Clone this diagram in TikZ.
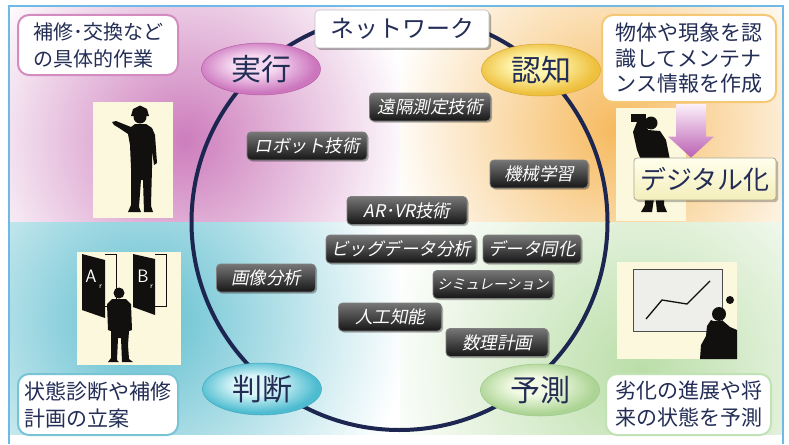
\documentclass[tikz,border=0pt]{standalone}
\usepackage{fontspec}
\setmainfont{Noto Sans CJK JP}
\newfontfamily\btnfont[FakeSlant=0.2]{Noto Sans CJK JP}
\usetikzlibrary{positioning,shapes.geometric,shadows,calc}
\definecolor{frameC}{RGB}{110,185,230}
\definecolor{navyT}{RGB}{35,45,85}
\definecolor{ringC}{RGB}{28,38,80}
\definecolor{magBg}{RGB}{205,125,188}
\definecolor{orgBg}{RGB}{246,186,95}
\definecolor{teaBg}{RGB}{95,190,207}
\definecolor{grnBg}{RGB}{186,222,168}
\definecolor{actL}{RGB}{212,140,192}
\definecolor{recL}{RGB}{245,200,118}
\definecolor{judL}{RGB}{120,196,212}
\definecolor{preL}{RGB}{192,226,180}
\definecolor{exIn}{RGB}{246,218,242}
\definecolor{exOut}{RGB}{204,118,190}
\definecolor{exLn}{RGB}{185,95,165}
\definecolor{reIn}{RGB}{255,246,175}
\definecolor{reOut}{RGB}{238,192,62}
\definecolor{reLn}{RGB}{214,168,52}
\definecolor{juIn}{RGB}{218,246,249}
\definecolor{juOut}{RGB}{78,188,208}
\definecolor{juLn}{RGB}{66,168,190}
\definecolor{prIn}{RGB}{242,250,228}
\definecolor{prOut}{RGB}{172,212,148}
\definecolor{prLn}{RGB}{158,200,138}
\definecolor{btnT}{RGB}{118,118,118}
\definecolor{btnB}{RGB}{22,22,22}
\definecolor{picBg}{RGB}{252,248,222}
\definecolor{silC}{RGB}{18,16,14}
\definecolor{boardF}{RGB}{238,238,234}
\definecolor{digT}{RGB}{255,255,236}
\definecolor{digB}{RGB}{244,238,186}
\definecolor{digL}{RGB}{168,168,150}
\definecolor{arrT}{RGB}{252,240,250}
\definecolor{arrB}{RGB}{186,96,178}
\pgfdeclareradialshading{exSh}{\pgfpoint{-4bp}{5bp}}{color(0bp)=(exIn); color(9bp)=(exIn); color(25bp)=(exOut); color(50bp)=(exOut)}
\pgfdeclareradialshading{reSh}{\pgfpoint{-4bp}{5bp}}{color(0bp)=(reIn); color(9bp)=(reIn); color(25bp)=(reOut); color(50bp)=(reOut)}
\pgfdeclareradialshading{juSh}{\pgfpoint{-4bp}{5bp}}{color(0bp)=(juIn); color(9bp)=(juIn); color(25bp)=(juOut); color(50bp)=(juOut)}
\pgfdeclareradialshading{prSh}{\pgfpoint{-4bp}{5bp}}{color(0bp)=(prIn); color(9bp)=(prIn); color(25bp)=(prOut); color(50bp)=(prOut)}

\begin{document}
\begin{tikzpicture}[
  x=1pt, y=-1pt,
  desc/.style={rounded corners=11pt, draw=#1, line width=2pt, fill=white, align=left, inner sep=0pt, text=navyT},
  lbl/.style={ellipse, minimum width=119pt, minimum height=52pt, inner sep=0pt, draw=#1Ln, line width=0.5pt,
              shade, shading=#1Sh, text=navyT, font=\fontsize{30}{30}\selectfont},
  btn/.style={rounded corners=4pt, draw=black!50, line width=0.8pt, top color=btnT, bottom color=btnB,
              text=white, font={\btnfont\fontsize{17.5}{18}\selectfont}, minimum height=28pt, inner sep=0pt,
              drop shadow={shadow xshift=1.5pt, shadow yshift=-1.5pt, fill=black, opacity=0.3}},
  ring/.style={draw=ringC, line width=4pt},
  pic/.style={fill=picBg},
  sil/.style={fill=silC},
  letter/.style={text=white, font=\sffamily\fontsize{#1}{#1}\selectfont, inner sep=0pt},
]
\useasboundingbox (0,0) rectangle (789,444);

% ---------- background ----------
\fill[white] (0,0) rectangle (789,444);
\begin{scope}
  \clip (10,7) rectangle (400,222);
  \shade[inner color=magBg, outer color=white] (185,140) circle (228);
\end{scope}
\begin{scope}
  \clip (400,7) rectangle (782,222);
  \shade[inner color=orgBg, outer color=white] (615,130) circle (228);
\end{scope}
\begin{scope}
  \clip (10,222) rectangle (400,434);
  \shade[inner color=teaBg, outer color=white] (140,320) circle (268);
\end{scope}
\begin{scope}
  \clip (400,222) rectangle (782,434);
  \shade[inner color=grnBg, outer color=white] (640,370) circle (262);
\end{scope}
\draw[frameC, line width=1.4pt] (9,444) -- (9,6) -- (783,6) -- (783,444);

% ---------- cycle ----------
\draw[ring] (399.5,222) circle (208);

% ---------- pictures ----------
% worker pointing
\fill[pic] (93,102) rectangle (173,218);
\fill[sil] (140,117) circle (6.5);
\fill[sil] (131,116) -- (133,109) -- (140,105.5) -- (147,109) -- (149,116) -- cycle;
\fill[sil] (135,124) -- (146,124) -- (152,128) -- (155,135) -- (157,163) -- (154,165) -- (152,150)
  -- (152,168) -- (151,206) -- (153,212) -- (144,212) -- (143,180) -- (141,180) -- (139,207)
  -- (141,212) -- (128,212) -- (131,205) -- (131,168) -- (130,145) -- (128,134) -- (119,128)
  -- (114,125) -- (112,122) -- (116,121) -- (121,123) -- (131,127) -- cycle;

% two doors
\fill[pic] (77,252) rectangle (181,365);
\draw[silC, line width=1pt] (105,254) -- (116,254) -- (116,306) -- (105,306);
\draw[silC, line width=1pt] (155,254) -- (166,254) -- (166,306) -- (155,306);
\fill[sil] (82,254) -- (105,260) -- (105,318) -- (82,310) -- cycle;
\fill[sil] (133,254) -- (155,259) -- (155,315) -- (133,307) -- cycle;
\node[letter=18] (doorA) at (91,276) {A};
\node[letter=8] (doorAr) at (100.5,287) {r};
\node[letter=18] (doorB) at (143,276) {B};
\node[letter=8] (doorBr) at (151.5,287) {r};
\fill[sil] (119,293) circle (5.5);
\fill[sil] (112,299) -- (126,299) -- (131,304) -- (132,330) -- (129,331) -- (128,345) -- (129,359)
  -- (133,362) -- (122,362) -- (121,338) -- (118,338) -- (117,360) -- (119,362) -- (108,362)
  -- (111,358) -- (111,331) -- (108,330) -- (107,304) -- cycle;

% looking through binoculars
\fill[pic] (616,108) rectangle (686,221);
\fill[sil] (651,123) circle (6.5);
\fill[sil] (631,114) rectangle (646,122);
\fill[sil] (637,122) -- (645,120) -- (648,130) -- (660,131) -- (666,140) -- (670,160) -- (665,160)
  -- (664,205) -- (667,212) -- (657,212) -- (655,192) -- (652,212) -- (641,212) -- (645,205)
  -- (643,165) -- (637,150) -- (633,132) -- cycle;

% forecasting at the board
\fill[pic] (617,262) rectangle (737,359);
\filldraw[fill=boardF, draw=black!70, line width=0.8pt] (633,269) rectangle (722,331);
\draw[silC, line width=1.3pt] (646,319) -- (662,300) -- (687,304) -- (710,281);
\fill[sil] (730,300) circle (4);
\fill[sil] (719,314) circle (7);
\fill[sil] (713,321) -- (723,321) -- (730,327) -- (737,330) -- (737,359) -- (700,359) -- (701,345)
  -- (706,336) -- (707,326) -- (711,320) -- cycle;

% ---------- nodes ----------
\node[desc=actL, minimum width=160pt, minimum height=60pt, font=\fontsize{20}{27}\selectfont]
  (acttxt) at (98,45) {補修･交換など\\の具体的作業};
\node[desc=recL, minimum width=174pt, minimum height=87pt, font=\fontsize{21}{25.5}\selectfont]
  (recogtxt) at (689,58.5) {物体や現象を認\\識してメンテナ\\ンス情報を作成};
\node[desc=judL, minimum width=160pt, minimum height=61pt, font=\fontsize{21}{27}\selectfont]
  (judgetxt) at (98,404.5) {状態診断や補修\\計画の立案};
\node[desc=preL, minimum width=165pt, minimum height=61pt, font=\fontsize{21}{27}\selectfont]
  (predtxt) at (688.5,404.5) {劣化の進展や将\\来の状態を予測};

\node[rounded corners=4pt, fill=white, draw=black!25, line width=0.6pt, minimum width=174pt, minimum height=38pt,
      inner sep=0pt, text=navyT, font=\fontsize{24}{24}\selectfont,
      drop shadow={shadow xshift=2pt, shadow yshift=-2pt, fill=black, opacity=0.3}]
  (net) at (402,29) {ネットワーク};

\node[lbl=ex] (act) at (261,69) {実行};
\node[lbl=re] (recog) at (541,70) {認知};
\node[lbl=ju] (judge) at (262,389) {判断};
\node[lbl=pr] (pred) at (540,390) {予測};

\node[btn, minimum width=121pt] (remote) at (430,107) {遠隔測定技術};
\node[btn, minimum width=120pt] (robot) at (307,146) {ロボット技術};
\node[btn, minimum width=98pt] (ml) at (539,174) {機械学習};
\node[btn, minimum width=120pt] (arvr) at (407,210.5) {AR･VR技術};
\node[btn, minimum width=150pt] (bigdata) at (401,249) {ビッグデータ分析};
\node[btn, minimum width=98pt] (assim) at (532,249) {データ同化};
\node[btn, minimum width=99pt] (image) at (266,278) {画像分析};
\node[btn, minimum width=120pt, font={\btnfont\fontsize{14}{18}\selectfont}] (sim) at (493,284.5) {シミュレーション};
\node[btn, minimum width=103pt] (ai) at (390,317) {人工知能};
\node[btn, minimum width=102pt] (mathprog) at (497,342.5) {数理計画};

% ---------- digitisation ----------
\coordinate (atop) at ($(recogtxt.south)+(2,1)$);
\node[rounded corners=3pt, top color=digT, bottom color=digB, draw=digL, line width=0.8pt,
      minimum width=142pt, minimum height=42pt, inner sep=0pt, text=navyT, font=\fontsize{26}{26}\selectfont,
      drop shadow={shadow xshift=2pt, shadow yshift=-2pt, fill=black, opacity=0.25}]
  (digi) at (705,179) {デジタル化};
\coordinate (abot) at (digi.north -| atop);
\shade[top color=arrT, bottom color=arrB]
  ($(atop)+(-15,0)$) -- ($(atop)+(15,0)$) -- ($(abot)+(15,-21)$) -- ($(abot)+(23,-21)$)
  -- (abot) -- ($(abot)+(-23,-21)$) -- ($(abot)+(-15,-21)$) -- cycle;

\end{tikzpicture}
\end{document}
